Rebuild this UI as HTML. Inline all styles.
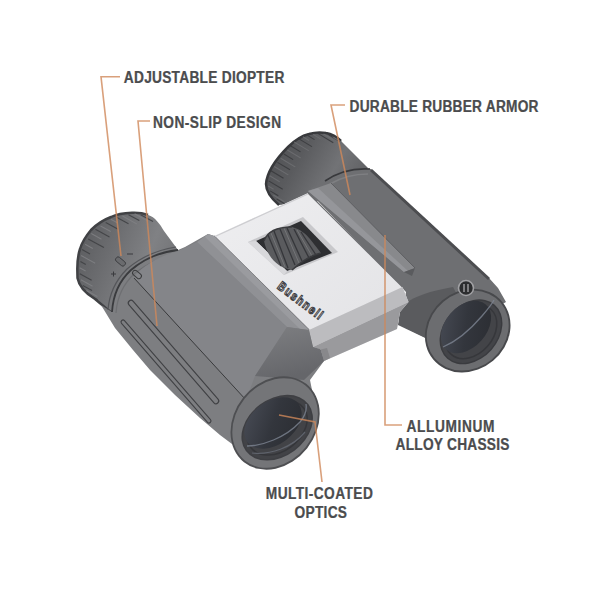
<!DOCTYPE html>
<html><head><meta charset="utf-8">
<style>
html,body{margin:0;padding:0;background:#fff;width:600px;height:600px;overflow:hidden}
svg{position:absolute;left:0;top:0}
text{font-family:"Liberation Sans",sans-serif;font-weight:bold;fill:#4b4c4e;stroke:#4b4c4e;stroke-width:0.25}
</style></head><body>
<svg width="600" height="600" viewBox="0 0 600 600">
<defs>
  <linearGradient id="eyeR" x1="0" y1="0.3" x2="1" y2="0.7">
    <stop offset="0" stop-color="#505154"/>
    <stop offset="0.3" stop-color="#5a5b5e"/>
    <stop offset="0.65" stop-color="#727376"/>
    <stop offset="1" stop-color="#5c5d60"/>
  </linearGradient>
  <linearGradient id="eyeL" x1="0" y1="0.3" x2="1" y2="0.7">
    <stop offset="0" stop-color="#5c5d60"/>
    <stop offset="0.3" stop-color="#6c6d70"/>
    <stop offset="0.65" stop-color="#808184"/>
    <stop offset="1" stop-color="#6e6f72"/>
  </linearGradient>
  <linearGradient id="silver" x1="0" y1="0" x2="1" y2="1">
    <stop offset="0" stop-color="#eeeef0"/>
    <stop offset="1" stop-color="#e2e2e5"/>
  </linearGradient>
  <linearGradient id="shoulderL" x1="0" y1="0" x2="0.3" y2="1">
    <stop offset="0" stop-color="#7e7f82"/>
    <stop offset="1" stop-color="#65666a"/>
  </linearGradient>
  <linearGradient id="lens" x1="0" y1="0" x2="1" y2="1">
    <stop offset="0" stop-color="#4a4e58"/>
    <stop offset="0.5" stop-color="#33363d"/>
    <stop offset="1" stop-color="#2a2c31"/>
  </linearGradient>
</defs>
<rect width="600" height="600" fill="#fff"/>
<!-- ===== right rear barrel ===== -->
<path d="M279,205 C272,199 266,192 266,184 C267,172 277,158 288,147 C294,141 301,136 309,134 C314,132.5 320,132 326,133 C333,134 337,137 341,141 L368,168 L330,200 Z" fill="url(#eyeR)"/>
<!-- end rim -->
<path d="M279,205 C272,199 266,192 266,184 C267,172 277,158 288,147 C294,141 301,136 309,134 C314,132.5 320,132 326,133 C333,134 337,137 341,141" fill="none" stroke="#38393c" stroke-width="2.5"/>
<g stroke-width="1.1" opacity="0.85"><line x1="276.7" y1="199.0" x2="289.6" y2="206.8" stroke="#38393c"/><line x1="273.3" y1="195.0" x2="284.5" y2="201.8" stroke="#6e6f72"/><line x1="270.1" y1="190.9" x2="278.3" y2="195.8" stroke="#38393c"/><line x1="268.1" y1="186.0" x2="273.6" y2="189.3" stroke="#6e6f72"/><line x1="268.6" y1="180.9" x2="282.7" y2="189.3" stroke="#38393c"/><line x1="269.7" y1="175.7" x2="279.7" y2="181.7" stroke="#6e6f72"/><line x1="271.0" y1="170.7" x2="283.5" y2="178.2" stroke="#38393c"/><line x1="274.2" y1="166.5" x2="288.4" y2="175.0" stroke="#6e6f72"/><line x1="277.5" y1="162.4" x2="290.0" y2="169.8" stroke="#38393c"/><line x1="280.7" y1="158.2" x2="295.3" y2="167.0" stroke="#6e6f72"/><line x1="283.9" y1="154.0" x2="293.1" y2="159.6" stroke="#38393c"/><line x1="287.3" y1="150.0" x2="300.7" y2="158.0" stroke="#6e6f72"/><line x1="290.8" y1="146.0" x2="300.5" y2="151.9" stroke="#38393c"/><line x1="294.2" y1="142.0" x2="309.0" y2="150.9" stroke="#6e6f72"/><line x1="297.7" y1="138.1" x2="311.9" y2="146.6" stroke="#38393c"/><line x1="302.8" y1="136.8" x2="309.0" y2="140.5" stroke="#6e6f72"/><line x1="307.9" y1="135.6" x2="314.5" y2="139.6" stroke="#38393c"/><line x1="313.1" y1="134.4" x2="320.5" y2="138.9" stroke="#6e6f72"/><line x1="318.2" y1="133.6" x2="333.3" y2="142.7" stroke="#38393c"/><line x1="323.5" y1="134.0" x2="333.1" y2="139.8" stroke="#6e6f72"/><line x1="328.6" y1="134.8" x2="340.2" y2="141.7" stroke="#38393c"/><line x1="333.4" y1="137.2" x2="341.6" y2="142.1" stroke="#6e6f72"/></g>
<!-- body face -->
<path d="M308,191 C314,186 320,183 325,181 C338,172 354,168 371,169 L432,225 L489,278 L498,288 L506,302 L475,320 L440,345 L400,325 L406,292 Z" fill="#6e6f72"/>
<path d="M325,181 C338,172 354,168 370,169" fill="none" stroke="#38393c" stroke-width="1.6"/>
<path d="M330,184 C342,177 354,174 368,174" fill="none" stroke="#7e7f82" stroke-width="1.5"/>
<path d="M371,170 L489,279" fill="none" stroke="#4c4d50" stroke-width="3"/>
<!-- bevel strip -->
<path d="M308,191 L331,183 L415,268 L404,272 Z" fill="#88898c"/>
<path d="M331,183 L415,268" stroke="#5e5f62" stroke-width="1" fill="none"/>
<path d="M308,191 L318,188 L408,271 L404,272 Z" fill="#95969a"/>
<path d="M404,272 L415,268 L412,276 Z" fill="#5a5b5e"/>
<!-- shoulder near objective -->
<path d="M400,308 C410,298 425,292 453,287 L460,300 L440,345 L398,325 Z" fill="#5a5b5e"/>

<!-- right objective -->
<ellipse cx="467.7" cy="330.6" rx="45" ry="39.5" transform="rotate(-40 467.7 330.6)" fill="#48494c"/>
<ellipse cx="467.7" cy="330.6" rx="43.2" ry="37.6" transform="rotate(-40 467.7 330.6)" fill="#6c6d70"/>
<ellipse cx="471" cy="331.8" rx="36" ry="27.4" transform="rotate(-48.7 471 331.8)" fill="#3a3b3f"/>
<ellipse cx="471" cy="331.8" rx="34.5" ry="26" transform="rotate(-48.7 471 331.8)" fill="#434448"/>
<ellipse cx="471" cy="331.8" rx="30" ry="22" transform="rotate(-48.7 471 331.8)" fill="none" stroke="#36373b" stroke-width="1.5"/>
<ellipse cx="466" cy="327" rx="30" ry="20.5" transform="rotate(-48.7 466 327)" fill="url(#lens)"/>
<path d="M443,347 C455,342 470,330 482,316 C488,309 492,304 494,300" fill="none" stroke="#7d8592" stroke-width="1.3" opacity="0.8"/>
<circle cx="466" cy="288" r="7.5" fill="#2c2d2f" stroke="#a0a0a3" stroke-width="1.6"/>
<path d="M464,284 L464,292 M468,284 L468,292" stroke="#cfcfd2" stroke-width="1"/>
<!-- ===== silver bridge ===== -->
<path d="M214,236 L308,193 L402.5,287 L408.5,302 L400,312 L397,329 L324,361 L320.8,349.4 L313,347 L309,330 Z" fill="url(#silver)"/>
<path d="M309,330 L402.5,287 L408.5,302 L313,347 Z" fill="#bcbcbf"/>
<path d="M313,347 L408.5,302 L400,312 L397,329 L324,361 L320.8,349.4 Z" fill="#9a9a9d"/>
<path d="M320.8,349.4 L324,361 L330,358 L327,348 Z" fill="#88888b"/>
<path d="M214,236 L309,330" stroke="#5a5b5e" stroke-width="1.2" fill="none"/>
<path d="M308,193 L402.5,287" stroke="#6a6b6e" stroke-width="1.1" fill="none"/>
<path d="M215,236.5 L308,194" stroke="#cdcdd0" stroke-width="1.2" fill="none"/>
<!-- recess -->
<path d="M248,242 L303,217 L338,252 L284,275 Z" fill="#c8c8cb"/>
<path d="M256,241 L301,221 L332,253 L287,271 Z" fill="#2e2f32"/>
<path d="M248,242 L256,241 L287,271 L284,275 Z" fill="#d8d8db"/>
<!-- focus wheel -->
<path d="M264,241 C267,232 277,227 292,227 C300,229 306,234 310,239 L321,253 C311,255 301,262 292,270 C280,268 268,260 264,241 Z" fill="#5a5b5e"/>
<g stroke="#35363a" stroke-width="1.3">
  <line x1="268" y1="235" x2="281" y2="266"/>
  <line x1="274" y1="231" x2="288" y2="268"/>
  <line x1="280" y1="229" x2="295" y2="265"/>
  <line x1="287" y1="228" x2="302" y2="261"/>
  <line x1="294" y1="229" x2="309" y2="258"/>
  <line x1="301" y1="232" x2="316" y2="255"/>
</g>
<g stroke="#7a7b7e" stroke-width="0.8">
  <line x1="271" y1="233" x2="285" y2="267"/>
  <line x1="284" y1="228" x2="299" y2="263"/>
  <line x1="297" y1="230" x2="312" y2="256"/>
</g>
<path d="M292,270 C301,262 311,255 321,253" fill="none" stroke="#3a3b3e" stroke-width="1.6"/>
<path d="M264,241 C267,232 277,227 292,227" fill="none" stroke="#3a3b3e" stroke-width="1.4"/>
<!-- logo -->
<text transform="translate(276.5,288) rotate(37) scale(0.78,1)" font-size="13" style="fill:#dcdcdf;stroke:#3c3c3f;stroke-width:1.1" textLength="68" lengthAdjust="spacing">Bushnell</text>
<!-- ===== left front barrel ===== -->
<path d="M178,250 L164,231 C160,224 155,217 148,215 C143,213 137,212.5 132,212.7 C124,213 117,214 111,217 C103,220 96,225 91,230 C86,236 82,242 80,249 C78,255 77.3,262 77.3,269 L77.5,278 C79,286 85,293 95,299 L113,314 C113,296 118,282 131,270 C145,258 160,252 178,250 Z" fill="url(#eyeL)"/>
<path d="M148,215 C143,213 137,212.5 132,212.7 C124,213 117,214 111,217 C103,220 96,225 91,230 C86,236 82,242 80,249 C78,255 77.3,262 77.3,269 L77.5,278 C79,286 85,293 95,299 L113,314" fill="none" stroke="#414245" stroke-width="2.5"/>
<g stroke-width="1.1" opacity="0.85"><line x1="90.0" y1="295.5" x2="97.7" y2="299.7" stroke="#3e3f42"/><line x1="86.4" y1="290.5" x2="97.4" y2="296.5" stroke="#808184"/><line x1="82.8" y1="285.5" x2="92.0" y2="290.5" stroke="#3e3f42"/><line x1="80.9" y1="279.8" x2="92.6" y2="286.2" stroke="#808184"/><line x1="79.8" y1="273.7" x2="91.6" y2="280.3" stroke="#3e3f42"/><line x1="79.6" y1="267.7" x2="85.6" y2="271.0" stroke="#808184"/><line x1="80.4" y1="261.6" x2="85.8" y2="264.6" stroke="#3e3f42"/><line x1="81.1" y1="255.5" x2="95.2" y2="263.2" stroke="#808184"/><line x1="82.0" y1="249.5" x2="90.0" y2="253.9" stroke="#3e3f42"/><line x1="85.1" y1="244.2" x2="92.8" y2="248.4" stroke="#808184"/><line x1="88.2" y1="238.9" x2="103.9" y2="247.5" stroke="#3e3f42"/><line x1="91.3" y1="233.5" x2="101.5" y2="239.2" stroke="#808184"/><line x1="95.4" y1="229.2" x2="109.5" y2="237.0" stroke="#3e3f42"/><line x1="100.5" y1="225.9" x2="110.8" y2="231.5" stroke="#808184"/><line x1="105.7" y1="222.6" x2="117.7" y2="229.1" stroke="#3e3f42"/><line x1="110.8" y1="219.2" x2="117.7" y2="223.0" stroke="#808184"/><line x1="116.5" y1="217.2" x2="128.5" y2="223.8" stroke="#3e3f42"/><line x1="122.5" y1="216.0" x2="136.9" y2="223.9" stroke="#808184"/><line x1="128.5" y1="214.7" x2="139.3" y2="220.6" stroke="#3e3f42"/><line x1="134.6" y1="213.8" x2="147.6" y2="221.0" stroke="#808184"/><line x1="140.6" y1="214.7" x2="153.0" y2="221.4" stroke="#3e3f42"/><line x1="146.7" y1="215.5" x2="152.6" y2="218.8" stroke="#808184"/></g>
<!-- body -->
<path d="M112,312 C113,296 118,282 131,270 C145,258 160,252 178,250 L185,247 L208,234 L214,236 L309,330 L313,347 L320,349 L324,361 L310,380 L316,410 L305,447 L265,468 L240,450 L220,435 L200,418 L175,395 L150,370 L133,350 L115,328 L101,305 Z" fill="#7d7e81"/>
<path d="M112,312 C113,296 118,282 131,270 C145,258 160,252 178,250" fill="none" stroke="#3a3b3e" stroke-width="1.8"/>
<path d="M116,313 C117,298 122,285 135,273 C149,262 164,256 182,253" fill="none" stroke="#6e6f72" stroke-width="1.2"/>
<path d="M108,310 C109,296 114,282 127,269 C141,257 157,250 176,247" fill="none" stroke="#55565a" stroke-width="1.2"/>
<path d="M111,274 L116,274 M113.5,271.5 L113.5,276.5" stroke="#3a3b3e" stroke-width="1"/>
<path d="M127,254 L133,254" stroke="#3a3b3e" stroke-width="1"/>
<rect x="115" y="259" width="11" height="5" rx="2" transform="rotate(40 120.5 261.5)" fill="#6a6b6e" stroke="#3a3b3e" stroke-width="0.9"/>
<!-- top face -->
<path d="M134,277 C145,264 160,256 178,251 L197,242 L287,327 L255,376 L246,400 Z" fill="#848589"/>
<!-- bevel -->
<path d="M197,242 L208,234 L214,236 L309,330 L287,327 Z" fill="#909195"/>
<path d="M205,237 L208,234 L214,236 L309,330 L300,329 Z" fill="#9a9b9f"/>
<!-- shoulder -->
<path d="M287,327 L309,330 L313,347 L320.8,349.4 L324,361 L304,380 L255,376 Z" fill="url(#shoulderL)"/>
<!-- grip grooves -->
<g fill="none" stroke-linecap="round">
  <path d="M131,303 L216,401" stroke="#404144" stroke-width="6.5"/>
  <path d="M131,303 L216,401" stroke="#7d7e81" stroke-width="4.2"/>
  <path d="M123,322 L209,421" stroke="#404144" stroke-width="5"/>
  <path d="M123,322 L209,421" stroke="#7d7e81" stroke-width="2.8"/>
</g>
<path d="M134,278 L246,400" stroke="#3a3b3d" stroke-width="1" fill="none"/>
<!-- indicator -->
<rect x="132" y="272" width="10" height="5" rx="2.5" transform="rotate(40 137 274.5)" fill="none" stroke="#3a3b3d" stroke-width="1"/>

<!-- left objective -->
<ellipse cx="275.1" cy="423" rx="50" ry="40.8" transform="rotate(-51.5 275.1 423)" fill="#4e4f52"/>
<ellipse cx="275.1" cy="423" rx="48.2" ry="39" transform="rotate(-51.5 275.1 423)" fill="#747578"/>
<ellipse cx="277.2" cy="427.7" rx="39.1" ry="28.8" transform="rotate(-36.75 277.2 427.7)" fill="#3e3f43"/>
<ellipse cx="277.2" cy="427.7" rx="37.6" ry="27.4" transform="rotate(-36.75 277.2 427.7)" fill="#424347"/>
<ellipse cx="277.2" cy="427.7" rx="33" ry="23.5" transform="rotate(-36.75 277.2 427.7)" fill="none" stroke="#35363a" stroke-width="1.5"/>
<ellipse cx="273" cy="423" rx="32" ry="21.5" transform="rotate(-36.75 273 423)" fill="url(#lens)"/>
<path d="M247,446 C262,446 285,438 300,422 C305,416 307,410 306,404" fill="none" stroke="#7d8592" stroke-width="1.3" opacity="0.8"/>
<path d="M252,453 C270,455 292,448 305,432" fill="none" stroke="#5f636c" stroke-width="1.2"/>
<g stroke="#d0885a" stroke-width="1.6" stroke-opacity="0.8" fill="none">
  <polyline points="120,76.7 101,76.7 121,256"/>
  <polyline points="150,121 138,121 157,326"/>
  <polyline points="345,105 331,105 350,195"/>
  <polyline points="385,235 385,425 402,425"/>
  <polyline points="279,415 315,422 322,482"/>
</g>
<!-- ===== labels ===== -->
<text transform="translate(123.8,82.6) scale(0.88,1)" font-size="15.6" textLength="182.4" lengthAdjust="spacing">ADJUSTABLE DIOPTER</text>
<text transform="translate(153,128.1) scale(0.88,1)" font-size="15.6" textLength="145.5" lengthAdjust="spacing">NON-SLIP DESIGN</text>
<text transform="translate(349.5,111.8) scale(0.88,1)" font-size="15.6" textLength="214.8" lengthAdjust="spacing">DURABLE RUBBER ARMOR</text>
<text transform="translate(406.5,431.7) scale(0.88,1)" font-size="15.6" textLength="100.0" lengthAdjust="spacing">ALLUMINUM</text>
<text transform="translate(395.5,450.1) scale(0.88,1)" font-size="15.6" textLength="129.5" lengthAdjust="spacing">ALLOY CHASSIS</text>
<text transform="translate(265.8,499.4) scale(0.88,1)" font-size="15.6" textLength="121.6" lengthAdjust="spacing">MULTI-COATED</text>
<text transform="translate(294.5,518.2) scale(0.88,1)" font-size="15.6" textLength="59.7" lengthAdjust="spacing">OPTICS</text>
</svg>
</body></html>
